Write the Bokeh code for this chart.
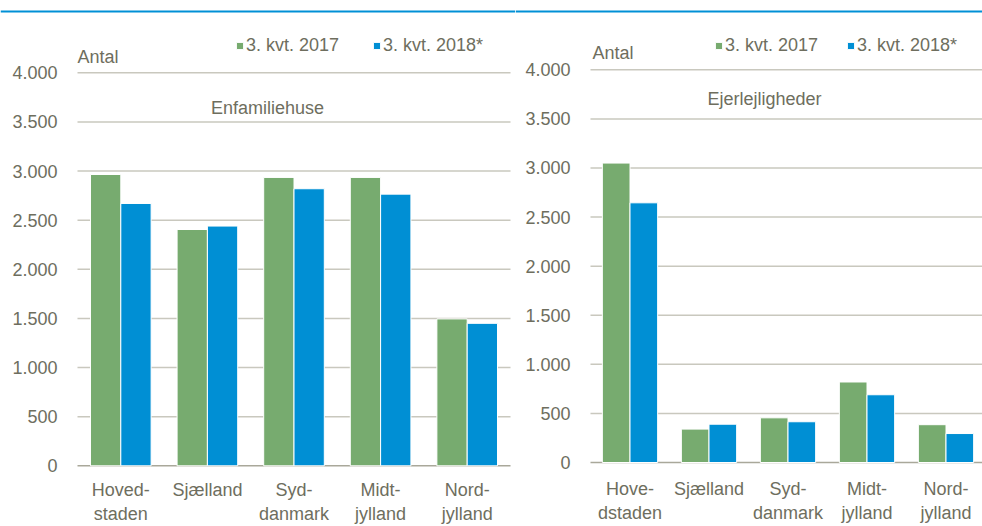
from bokeh.plotting import figure
from bokeh.models import Range1d, Label, Legend, LegendItem, ColumnDataSource, Span
from bokeh.layouts import row
from bokeh.transform import dodge
from bokeh.core.properties import value
from bokeh.embed import file_html
from bokeh.resources import INLINE

# ---- data ----
regions_left = ["Hoved-\nstaden", "Sjælland", "Syd-\ndanmark", "Midt-\njylland", "Nord-\njylland"]
regions_right = ["Hove-\ndstaden", "Sjælland", "Syd-\ndanmark", "Midt-\njylland", "Nord-\njylland"]
series = ["3. kvt. 2017", "3. kvt. 2018*"]
houses_2017 = [2965, 2405, 2935, 2935, 1495]
houses_2018 = [2670, 2440, 2820, 2765, 1450]
flats_2017 = [3050, 340, 455, 820, 385]
flats_2018 = [2645, 390, 415, 690, 295]
y_ticks = [0, 500, 1000, 1500, 2000, 2500, 3000, 3500, 4000]
panel_titles = ["Enfamiliehuse", "Ejerlejligheder"]
unit_label = "Antal"

# ---- style ----
FONT = "Liberation Sans"
TXT = "#6E6E5E"
GREEN = "#77AB6F"
BLUE = "#008FD4"
RULE = "#0090D6"
GRID = "#C9C8BE"
AXIS = "#A9A89A"
FS = "18px"
FIG_H = 526   # the page itself has no margin (bokeh template), frame fills the figure


def make_panel(cats, v17, v18, title, fig_left, fig_right, plot_left, plot_right,
               zero_y, top_y, legend_x, legend_spacing, antal_xy, title_xy, cat_top_y):
    # all *_y / *_left / *_right arguments are page pixel positions
    width = fig_right - fig_left
    ppx = (plot_right - plot_left) / 5.0               # px per category
    x_start = -0.5 - (plot_left - fig_left) / ppx
    x_end = -0.5 + (fig_right - plot_left) / ppx
    ppu = (zero_y - top_y) / 4000.0                     # px per unit
    fig_top, fig_bot = 0, FIG_H
    y_end = (zero_y - fig_top) / ppu
    y_start = -(fig_bot - zero_y) / ppu

    p = figure(width=width, height=FIG_H, output_backend="svg", toolbar_location=None,
               x_range=Range1d(x_start, x_end), y_range=Range1d(y_start, y_end),
               min_border_left=0, min_border_right=0, min_border_top=0, min_border_bottom=0,
               x_axis_location=None, y_axis_location=None,
               outline_line_color=None, background_fill_color="white",
               border_fill_color="white")
    p.grid.visible = False

    # gridlines, zero line and value labels
    g = ColumnDataSource(dict(y=y_ticks, x0=[-0.5] * len(y_ticks), x1=[4.5] * len(y_ticks),
                              lab=[f"{t:,}".replace(",", ".") for t in y_ticks],
                              col=[AXIS] + [GRID] * (len(y_ticks) - 1)))
    p.segment(x0="x0", y0="y", x1="x1", y1="y", source=g, line_color="col", line_width=1.5)
    p.text(x="x0", y="y", text="lab", source=g, x_offset=-20, text_font=value(FONT),
           text_font_size=FS, text_color=TXT, text_align="right", text_baseline="middle")

    idx = list(range(len(cats)))
    src = ColumnDataSource(dict(x=idx, v17=v17, v18=v18, cat=cats))
    r1 = p.vbar(x=dodge("x", -0.175, range=p.x_range), top="v17", width=0.35, source=src,
                fill_color=GREEN, line_color="white", line_width=1)
    r2 = p.vbar(x=dodge("x", 0.175, range=p.x_range), top="v18", width=0.35, source=src,
                fill_color=BLUE, line_color="white", line_width=1)

    # category labels under the zero line
    src.data["cy"] = [-(cat_top_y - zero_y) / ppu] * len(cats)
    p.text(x="x", y="cy", text="cat", source=src, text_font=value(FONT),
           text_font_size=FS, text_color=TXT, text_align="center",
           text_baseline="top", text_line_height=1.2)

    # thin blue rule at the very top
    p.add_layout(Span(location=(zero_y - 11) / ppu, dimension="width",
                      line_color=RULE, line_width=2))

    legend = Legend(items=[LegendItem(label=series[0], renderers=[r1]),
                           LegendItem(label=series[1], renderers=[r2])],
                    location=(legend_x - fig_left, fig_bot - 56), orientation="horizontal",
                    glyph_width=9, glyph_height=9, label_standoff=2, spacing=legend_spacing,
                    label_height=20, padding=0, margin=0, border_line_color=None,
                    background_fill_alpha=0,
                    label_text_font=FONT, label_text_font_size=FS, label_text_color=TXT)
    p.add_layout(legend, "center")

    p.add_layout(Label(x=antal_xy[0] - fig_left, y=fig_bot - antal_xy[1],
                       x_units="screen", y_units="screen",
                       text=unit_label, text_font=FONT, text_font_size=FS, text_color=TXT,
                       text_align="left", text_baseline="alphabetic"))
    p.add_layout(Label(x=title_xy[0] - fig_left, y=fig_bot - title_xy[1],
                       x_units="screen", y_units="screen",
                       text=title, text_font=FONT, text_font_size=FS, text_color=TXT,
                       text_align="center", text_baseline="alphabetic"))
    return p


left = make_panel(regions_left, houses_2017, houses_2018, panel_titles[0],
                  fig_left=0, fig_right=515, plot_left=77, plot_right=510,
                  zero_y=465.3, top_y=72.3, legend_x=235, legend_spacing=33,
                  antal_xy=(77, 56), title_xy=(267, 107), cat_top_y=479.5)
right = make_panel(regions_right, flats_2017, flats_2018, panel_titles[1],
                   fig_left=515, fig_right=982, plot_left=590, plot_right=985,
                   zero_y=462, top_y=69.3, legend_x=714, legend_spacing=28,
                   antal_xy=(592, 52), title_xy=(764, 98), cat_top_y=478)

layout = row(left, right, spacing=0)
open("out.html", "w").write(file_html(layout, INLINE))
